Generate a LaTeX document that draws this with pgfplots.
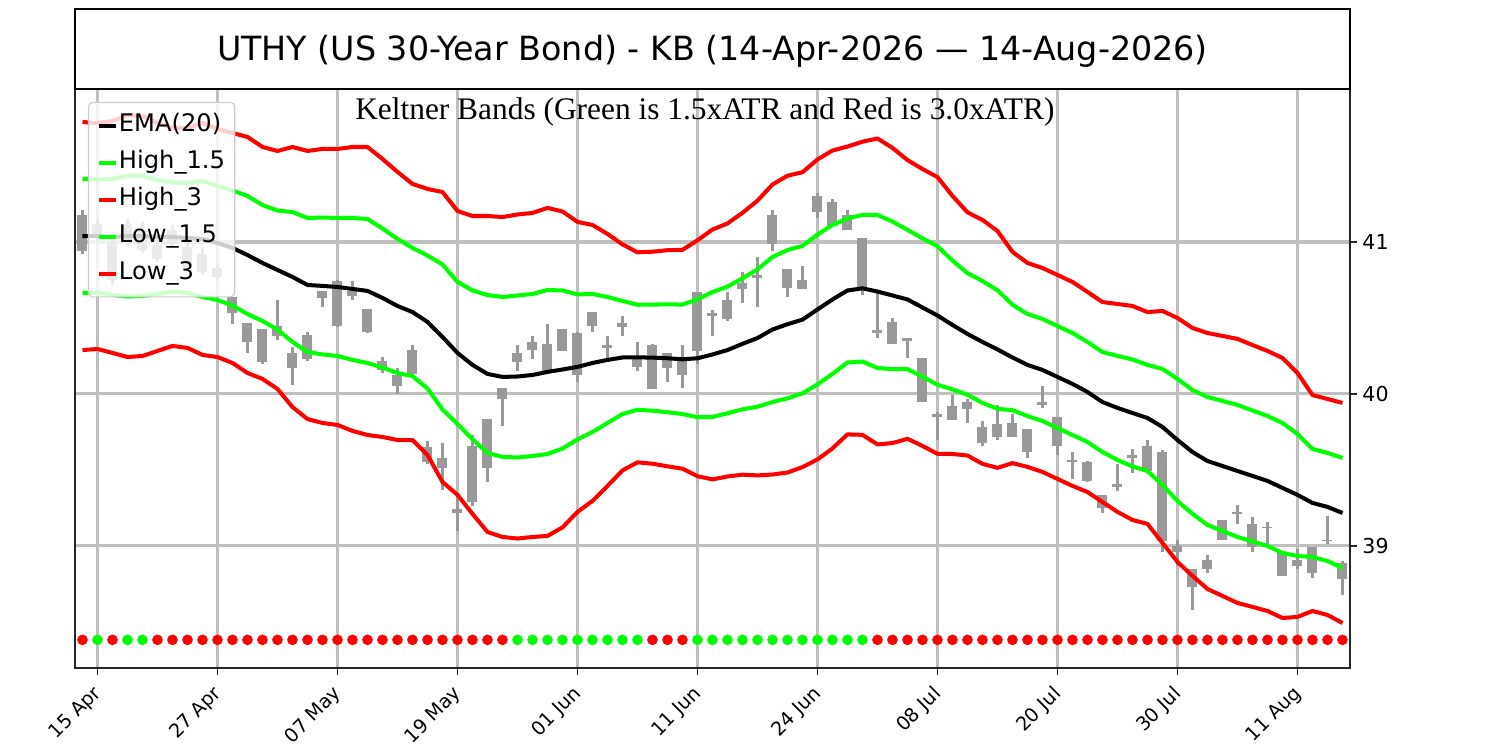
\documentclass[border=0pt]{standalone}
\usepackage{fontspec}
\setmainfont{DejaVu Sans}
\newfontfamily\subfont{Liberation Serif}
\usepackage{pgfplots}
\usepackage{pgfplotstable}
\pgfplotsset{compat=1.18}
\definecolor{lime}{RGB}{0,255,0}
\definecolor{candle}{RGB}{153,153,153}
\definecolor{gridc}{RGB}{191,191,191}
\definecolor{spine}{RGB}{38,38,38}
\definecolor{legframe}{RGB}{204,204,204}

\pgfplotstableread{
i ema h15 h3 l15 l3
0 41.039 41.414 41.789 40.664 40.289
1 41.039 41.411 41.783 40.668 40.296
2 41.033 41.414 41.796 40.651 40.270
3 41.039 41.437 41.835 40.641 40.243
4 41.039 41.434 41.829 40.645 40.250
5 41.033 41.408 41.783 40.658 40.283
6 41.033 41.391 41.750 40.674 40.316
7 41.026 41.388 41.750 40.664 40.303
8 41.020 41.401 41.783 40.638 40.257
9 40.993 41.368 41.743 40.618 40.243
10 40.961 41.339 41.717 40.582 40.204
11 40.914 41.303 41.691 40.526 40.138
12 40.862 41.243 41.625 40.480 40.099
13 40.816 41.207 41.599 40.424 40.033
14 40.770 41.197 41.625 40.342 39.914
15 40.717 41.158 41.599 40.276 39.835
16 40.711 41.161 41.612 40.260 39.809
17 40.704 41.158 41.612 40.250 39.796
18 40.691 41.158 41.625 40.224 39.757
19 40.678 41.151 41.625 40.204 39.730
20 40.632 41.089 41.546 40.174 39.717
21 40.579 41.020 41.461 40.138 39.697
22 40.539 40.961 41.382 40.118 39.697
23 40.474 40.911 41.349 40.036 39.599
24 40.375 40.852 41.329 39.898 39.421
25 40.270 40.737 41.204 39.803 39.336
26 40.191 40.681 41.171 39.701 39.211
27 40.132 40.651 41.171 39.612 39.092
28 40.112 40.638 41.164 39.586 39.059
29 40.115 40.648 41.181 39.582 39.049
30 40.125 40.658 41.191 39.592 39.059
31 40.145 40.684 41.224 39.605 39.066
32 40.161 40.681 41.201 39.641 39.122
33 40.178 40.655 41.132 39.701 39.224
34 40.204 40.658 41.112 39.750 39.296
35 40.224 40.638 41.053 39.809 39.395
36 40.240 40.612 40.984 39.868 39.497
37 40.241 40.587 40.932 39.896 39.550
38 40.239 40.588 40.936 39.890 39.541
39 40.235 40.590 40.946 39.880 39.524
40 40.228 40.588 40.948 39.868 39.508
41 40.235 40.623 41.011 39.847 39.459
42 40.260 40.671 41.082 39.849 39.438
43 40.289 40.706 41.122 39.873 39.457
44 40.330 40.761 41.192 39.899 39.469
45 40.368 40.820 41.272 39.916 39.464
46 40.424 40.901 41.378 39.947 39.470
47 40.459 40.947 41.436 39.971 39.483
48 40.489 40.974 41.459 40.004 39.519
49 40.556 41.049 41.543 40.063 39.569
50 40.622 41.112 41.602 40.132 39.642
51 40.681 41.155 41.628 40.207 39.734
52 40.695 41.178 41.660 40.213 39.731
53 40.674 41.178 41.681 40.171 39.668
54 40.648 41.134 41.619 40.163 39.677
55 40.622 41.080 41.539 40.163 39.705
56 40.569 41.024 41.480 40.114 39.658
57 40.516 40.972 41.427 40.061 39.606
58 40.454 40.878 41.303 40.030 39.605
59 40.395 40.795 41.195 39.995 39.595
60 40.342 40.743 41.145 39.941 39.540
61 40.293 40.682 41.072 39.903 39.514
62 40.240 40.587 40.935 39.893 39.545
63 40.191 40.526 40.862 39.855 39.520
64 40.158 40.493 40.829 39.822 39.487
65 40.112 40.447 40.783 39.776 39.441
66 40.066 40.401 40.737 39.730 39.395
67 40.013 40.342 40.671 39.684 39.355
68 39.947 40.276 40.605 39.618 39.289
69 39.908 40.250 40.592 39.566 39.224
70 39.875 40.227 40.579 39.523 39.171
71 39.842 40.191 40.539 39.493 39.145
72 39.783 40.165 40.546 39.401 39.020
73 39.697 40.099 40.500 39.296 38.895
74 39.618 40.026 40.434 39.211 38.803
75 39.559 39.980 40.401 39.138 38.717
76 39.526 39.954 40.382 39.099 38.671
77 39.493 39.928 40.362 39.059 38.625
78 39.461 39.891 40.322 39.030 38.599
79 39.428 39.855 40.283 39.000 38.572
80 39.382 39.809 40.237 38.954 38.526
81 39.336 39.737 40.138 38.934 38.533
82 39.283 39.638 39.993 38.928 38.572
83 39.257 39.612 39.967 38.901 38.546
84 39.217 39.579 39.941 38.855 38.493
}\bands

\pgfplotstableread{
i bl bh wl wh
0 40.94 41.18 40.92 41.21
1 41.03 41.12 41.00 41.16
2 40.75 41.00 40.72 41.02
3 41.00 41.12 40.98 41.15
4 40.95 41.08 40.93 41.13
5 40.89 40.98 40.87 41.01
6 40.99 41.08 40.96 41.11
7 40.83 40.97 40.80 41.00
8 40.80 40.92 40.78 40.96
9 40.77 40.83 40.75 40.85
10 40.53 40.64 40.46 40.64
11 40.34 40.465 40.27 40.465
12 40.21 40.425 40.20 40.425
13 40.38 40.45 40.355 40.62
14 40.17 40.27 40.06 40.31
15 40.23 40.39 40.22 40.41
16 40.63 40.68 40.57 40.68
17 40.45 40.745 40.44 40.75
18 40.645 40.68 40.62 40.745
19 40.41 40.56 40.40 40.56
20 40.16 40.22 40.14 40.24
21 40.05 40.125 40.00 40.17
22 40.13 40.29 40.125 40.32
23 39.55 39.65 39.54 39.69
24 39.51 39.58 39.37 39.68
25 39.22 39.24 39.10 39.35
26 39.29 39.66 39.26 39.73
27 39.51 39.835 39.42 39.835
28 39.97 40.04 39.79 40.04
29 40.21 40.27 40.15 40.32
30 40.29 40.34 40.23 40.38
31 40.15 40.33 40.14 40.46
32 40.28 40.425 40.28 40.43
33 40.125 40.40 40.08 40.405
34 40.45 40.54 40.41 40.54
35 40.30 40.32 40.235 40.38
36 40.44 40.47 40.38 40.51
37 40.18 40.24 40.15 40.34
38 40.03 40.32 40.03 40.33
39 40.17 40.27 40.08 40.27
40 40.125 40.22 40.04 40.32
41 40.28 40.67 40.20 40.67
42 40.51 40.53 40.38 40.55
43 40.49 40.62 40.48 40.67
44 40.69 40.73 40.60 40.80
45 40.765 40.785 40.575 40.90
46 40.99 41.18 40.94 41.21
47 40.70 40.82 40.64 40.82
48 40.69 40.75 40.69 40.84
49 41.20 41.30 41.155 41.32
50 41.105 41.26 41.105 41.28
51 41.08 41.18 41.08 41.21
52 40.695 41.025 40.65 41.025
53 40.40 40.42 40.365 40.67
54 40.33 40.475 40.33 40.50
55 40.35 40.365 40.235 40.365
56 39.95 40.235 39.945 40.235
57 39.85 39.87 39.70 39.88
58 39.83 39.92 39.83 39.99
59 39.90 39.95 39.81 39.97
60 39.675 39.785 39.66 39.82
61 39.72 39.80 39.70 39.93
62 39.72 39.81 39.72 39.87
63 39.615 39.77 39.58 39.77
64 39.93 39.95 39.91 40.05
65 39.66 39.85 39.60 39.85
66 39.555 39.565 39.44 39.62
67 39.43 39.555 39.42 39.56
68 39.25 39.335 39.22 39.335
69 39.39 39.41 39.36 39.54
70 39.58 39.60 39.48 39.64
71 39.49 39.66 39.49 39.70
72 39.03 39.62 38.96 39.63
73 38.96 39.00 38.87 39.04
74 38.73 38.85 38.58 38.85
75 38.85 38.91 38.82 38.94
76 39.04 39.17 39.04 39.17
77 39.21 39.225 39.145 39.27
78 38.995 39.145 38.96 39.19
79 39.117 39.127 38.995 39.16
80 38.80 38.96 38.80 38.96
81 38.865 38.91 38.85 38.98
82 38.82 38.99 38.79 38.995
83 39.03 39.04 39.015 39.20
84 38.78 38.89 38.68 38.90
}\candles

\begin{document}
\begin{tikzpicture}
\useasboundingbox (0,0) rectangle (1080pt,540pt);
\begin{axis}[
  at={(54pt,59.04pt)}, anchor=south west, scale only axis,
  width=918pt, height=416.7pt,
  xmin=-0.5, xmax=84.5, ymin=38.197, ymax=42.005,
  xtick={1,9,17,25,33,41,49,57,65,73,81},
  xticklabels={15 Apr,27 Apr,07 May,19 May,01 Jun,11 Jun,24 Jun,08 Jul,20 Jul,30 Jul,11 Aug},
  ytick={39,40,41},
  xtick pos=left, ytick pos=right, yticklabel pos=right,
  tick align=outside, major tick length=4.8pt,
  every tick/.style={spine, line width=0.8pt},
  grid=major, major grid style={gridc, line width=2.2pt},
  axis line style={spine, line width=1pt},
  /pgf/number format/assume math mode=true,
  xticklabel style={font=\fontsize{13.8}{16}\selectfont, xshift=-4pt, yshift=-4pt, rotate=45, anchor=north east, inner sep=2pt},
  yticklabel style={font=\fontsize{14.8}{17}\selectfont, anchor=west, inner sep=2pt, xshift=2pt},
  legend cell align=left,
  legend image code/.code={\draw[#1] (0pt,0pt) -- (12pt,0pt);},
  legend style={at={(0.0102,0.978)}, anchor=north west,
    font=\fontsize{17.4}{20}\selectfont,
    draw=legframe, line width=0.8pt, rounded corners=3pt,
    fill=white, fill opacity=0.8, text opacity=1,
    inner xsep=6pt, inner ysep=7pt, row sep=7.1pt,
    nodes={inner xsep=1pt, inner ysep=1pt, text height=13.2pt, text depth=4.3pt}},
]
% wicks
\addplot[draw=none, mark=none, forget plot,
  error bars/.cd, y dir=minus, y explicit, error mark=none,
  error bar style={draw=candle, line width=2.5pt}]
  table[x=i, y=wh, y error minus expr={\thisrow{wh}-\thisrow{wl}}] {\candles};
% bodies
\addplot[draw=none, mark=none, forget plot,
  error bars/.cd, y dir=minus, y explicit, error mark=none,
  error bar style={draw=candle, line width=7.2pt}]
  table[x=i, y=bh, y error minus expr={\thisrow{bh}-\thisrow{bl}}] {\candles};

\addplot[black, line width=2.9pt, line join=round] table[x=i, y=ema] {\bands};
\addlegendentry{EMA(20)}
\addplot[lime, line width=2.9pt, line join=round] table[x=i, y=h15] {\bands};
\addlegendentry{High\_1.5}
\addplot[red, line width=2.9pt, line join=round] table[x=i, y=h3] {\bands};
\addlegendentry{High\_3}
\addplot[lime, line width=2.9pt, line join=round] table[x=i, y=l15] {\bands};
\addlegendentry{Low\_1.5}
\addplot[red, line width=2.9pt, line join=round] table[x=i, y=l3] {\bands};
\addlegendentry{Low\_3}

% signal dots
\addplot[only marks, mark=*, mark size=3.6pt, red, forget plot] coordinates {
(0,38.382)(2,38.382)(5,38.382)(6,38.382)(7,38.382)(8,38.382)(9,38.382)(10,38.382)
(11,38.382)(12,38.382)(13,38.382)(14,38.382)(15,38.382)(16,38.382)(17,38.382)
(18,38.382)(19,38.382)(20,38.382)(21,38.382)(22,38.382)(23,38.382)(24,38.382)
(25,38.382)(26,38.382)(27,38.382)(28,38.382)(38,38.382)(39,38.382)(40,38.382)
(53,38.382)(54,38.382)(55,38.382)(56,38.382)(57,38.382)(58,38.382)(59,38.382)
(60,38.382)(61,38.382)(62,38.382)(63,38.382)(64,38.382)(65,38.382)(66,38.382)
(67,38.382)(68,38.382)(69,38.382)(70,38.382)(71,38.382)(72,38.382)(73,38.382)
(74,38.382)(75,38.382)(76,38.382)(77,38.382)(78,38.382)(79,38.382)(80,38.382)
(81,38.382)(82,38.382)(83,38.382)(84,38.382)};
\addplot[only marks, mark=*, mark size=3.6pt, lime, forget plot] coordinates {
(1,38.382)(3,38.382)(4,38.382)(29,38.382)(30,38.382)(31,38.382)(32,38.382)
(33,38.382)(34,38.382)(35,38.382)(36,38.382)(37,38.382)(41,38.382)(42,38.382)
(43,38.382)(44,38.382)(45,38.382)(46,38.382)(47,38.382)(48,38.382)(49,38.382)
(50,38.382)(51,38.382)(52,38.382)};

\node[anchor=base, font=\subfont\fontsize{22.6}{26}\selectfont] at (rel axis cs:0.494,0.948)
  {Keltner Bands (Green is 1.5xATR and Red is 3.0xATR)};
\end{axis}

\begin{axis}[
  at={(54pt,475.7pt)}, anchor=south west, scale only axis,
  width=918pt, height=57.8pt,
  xmin=0, xmax=1, ymin=0, ymax=1,
  xtick=\empty, ytick=\empty,
  axis line style={black, line width=1.6pt},
]
\node[anchor=base, font=\fontsize{24}{28}\selectfont] at (rel axis cs:0.5,0.356)
  {UTHY (US 30-Year Bond) - KB (14-Apr-2026 — 14-Aug-2026)};
\end{axis}
\end{tikzpicture}
\end{document}
